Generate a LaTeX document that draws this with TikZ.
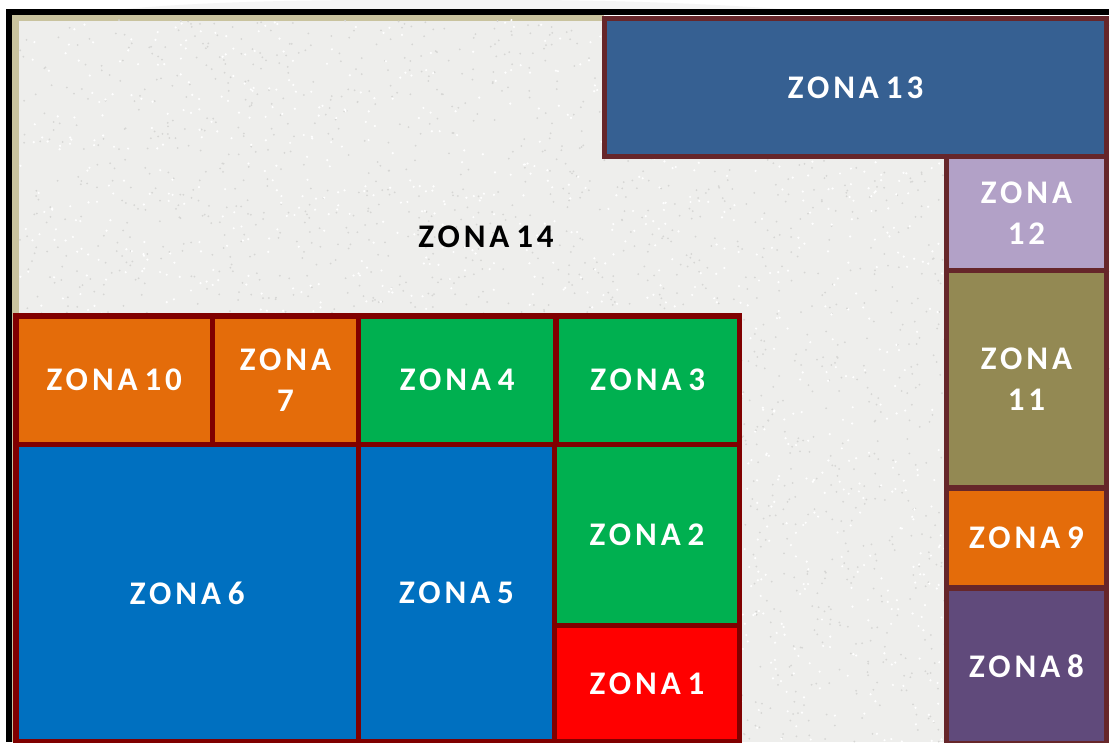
\documentclass[tikz,border=0pt]{standalone}
\usepackage{fontspec}
\newfontfamily\zfont{Carlito}[LetterSpace=12,WordSpace=0.6]
\definecolor{floor}{HTML}{EEEEEC}
\definecolor{speck}{HTML}{D6D6D4}
\definecolor{khaki}{HTML}{C9C39E}
\definecolor{bdL}{HTML}{800000}
\definecolor{bdR}{HTML}{66262A}
\definecolor{cBlueD}{HTML}{366092}
\definecolor{cLav}{HTML}{B2A1C7}
\definecolor{cOlive}{HTML}{938953}
\definecolor{cOrange}{HTML}{E46C0A}
\definecolor{cPurple}{HTML}{604A7B}
\definecolor{cGreen}{HTML}{00B050}
\definecolor{cBlue}{HTML}{0070C0}
\definecolor{cRed}{HTML}{FF0000}
\begin{document}
\begin{tikzpicture}[x=1pt,y=-1pt,
  zone/.style={rectangle, line width=5.5pt, inner sep=0pt, align=center,
    text=white, font=\zfont\bfseries\fontsize{33}{41}\selectfont},
  zl/.style={zone, draw=bdL},
  zr/.style={zone, draw=bdR},
  lbl/.style={font=\zfont\bfseries\fontsize{33}{41}\selectfont, text=black}]
\useasboundingbox (0,0) rectangle (1111,742);
\fill[white] (0,0) rectangle (1111,742);
% faint swoosh above frame
\fill[gray!8] (125,9) .. controls (200,2) and (300,0) .. (380,0) -- (520,0) .. controls (600,0) and (700,3) .. (780,9) -- cycle;
% frame
\fill[black] (6,9) rectangle (1109,15);
\fill[black] (6,9) rectangle (12,742);
\fill[khaki] (12,15) rectangle (604,21);
\fill[khaki] (12,15) rectangle (19,742);
\fill[floor] (19,21) rectangle (1109,742);
% texture
\pgfmathsetseed{7}
\fill[speck] \foreach \i in {1,...,3000}{
  ({564+545*rand},{381+361*rand}) circle (1.0)};
\pgfmathsetseed{11}
\fill[white] \foreach \i in {1,...,2000}{
  ({564+545*rand},{381+361*rand}) circle (1.2)};
% right column
\node[zr, fill=cBlueD, minimum width=502pt, minimum height=138pt] (z13) at (855.5,87.5) {ZONA 13};
\node[zr, fill=cLav, minimum width=160pt, minimum height=114pt] (z12) at (1026.5,213.5) {ZONA\\12};
\node[zr, fill=cOlive, minimum width=160pt, minimum height=217.5pt] (z11) at (1026.5,379.25) {ZONA\\11};
\node[zr, fill=cOrange, minimum width=160pt, minimum height=100pt] (z9) at (1026.5,538) {ZONA 9};
\node[zr, fill=cPurple, minimum width=160pt, minimum height=156pt] (z8) at (1026.5,666) {ZONA 8};
% left group
\node[zl, fill=cOrange, minimum width=196.5pt, minimum height=128.5pt] (z10) at (114.25,380.25) {ZONA 10};
\node[zl, fill=cOrange, minimum width=146pt, minimum height=128.5pt] (z7) at (285.5,380.25) {ZONA\\7};
\node[zl, fill=cGreen, minimum width=197.5pt, minimum height=128.5pt] (z4) at (457.25,380.25) {ZONA 4};
\node[zl, fill=cGreen, minimum width=183.5pt, minimum height=128.5pt] (z3) at (647.75,380.25) {ZONA 3};
\node[zl, fill=cBlue, minimum width=342.5pt, minimum height=297pt] (z6) at (187.25,593) {ZONA 6};
\node[zl, fill=cBlue, minimum width=196pt, minimum height=297pt] (z5) at (456.5,593) {ZONA 5};
\node[zl, fill=cGreen, minimum width=185pt, minimum height=181pt] (z2) at (647,535) {ZONA 2};
\node[zl, fill=cRed, minimum width=185pt, minimum height=116pt] (z1) at (647,683.5) {ZONA 1};
\node[lbl] (z14) at (486,237) {ZONA 14};
\end{tikzpicture}
\end{document}
